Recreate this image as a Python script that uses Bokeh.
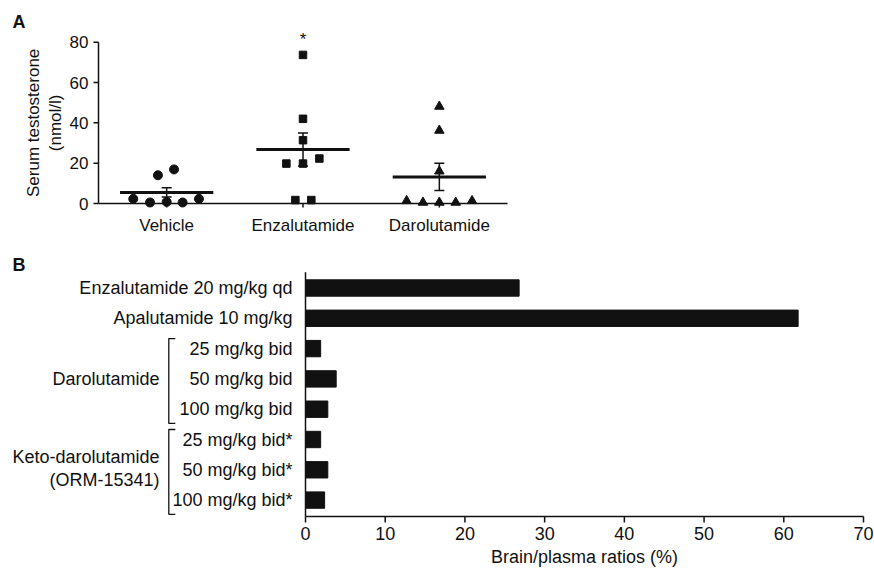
import math
from bokeh.plotting import figure
from bokeh.models import Range1d, Whisker, ColumnDataSource, TeeHead
from bokeh.layouts import column
from bokeh.embed import file_html
from bokeh.resources import INLINE
from bokeh.core.properties import value

# ---------------- data: panel A ----------------
groups_a = ["Vehicle", "Enzalutamide", "Darolutamide"]
vehicle_vals = [2.3, 0.5, 14.0, 0.8, 16.9, 0.5, 2.3]
vehicle_jit = [-0.245, -0.122, -0.064, 0.0, 0.054, 0.117, 0.237]
enza_vals = [19.8, 1.7, 73.7, 42.0, 31.4, 19.8, 1.7, 22.3]
enza_jit = [-0.122, -0.056, 0.0, 0.0, 0.0, 0.0, 0.061, 0.12]
daro_vals = [1.3, 0.5, 48.1, 36.2, 16.0, 0.5, 0.5, 1.3]
daro_jit = [-0.24, -0.12, 0.0, 0.0, 0.0, 0.0, 0.12, 0.24]
means_a = [5.5, 26.8, 13.2]
sems_a = [2.3, 8.2, 6.8]
y_ticks_a = [0, 20, 40, 60, 80]
y_label_a = ["Serum testosterone", "(nmol/l)"]
sig_group = 1

# ---------------- data: panel B ----------------
rows_b = ["Enzalutamide 20 mg/kg qd", "Apalutamide 10 mg/kg",
          "25 mg/kg bid", "50 mg/kg bid", "100 mg/kg bid",
          "25 mg/kg bid*", "50 mg/kg bid*", "100 mg/kg bid*"]
ratios_b = [26.8, 61.8, 1.9, 3.85, 2.8, 1.9, 2.8, 2.4]
bracket_groups = [("Darolutamide", 2, 4), ("Keto-darolutamide\n(ORM-15341)", 5, 7)]
x_ticks_b = [0, 10, 20, 30, 40, 50, 60, 70]
x_label_b = "Brain/plasma ratios (%)"

FONT = "Liberation Sans"
FS_A = "17px"
FS_B = "18px"
INK = "#111111"
W = 874
H = 568

def txt(p, fs, **kw):
    kw.setdefault("text_font", value(FONT))
    kw.setdefault("text_font_size", fs)
    kw.setdefault("text_color", INK)
    kw.setdefault("text_baseline", "middle")
    return p.text(**kw)

# ================= panel A =================
HA = 240
ax_left_px, ax_right_px = 98, 507       # x = -0.5 .. 2.5
y0_px, y80_px = 203, 41.7
xpu = (ax_right_px - ax_left_px) / 3.0
ypu = (y0_px - y80_px) / 80.0
xa0 = -0.5 - ax_left_px / xpu
xa1 = 2.5 + (W - ax_right_px) / xpu

pa = figure(width=W, height=HA, output_backend="svg", toolbar_location=None,
            x_range=Range1d(xa0, xa1),
            y_range=Range1d(-(HA - y0_px) / ypu, y0_px / ypu),
            min_border_left=0, min_border_right=0,
            min_border_top=0, min_border_bottom=0)
pa.outline_line_color = None
pa.grid.visible = False
pa.xaxis.visible = False
pa.yaxis.visible = False

for i, (vals, jit, mk, sz) in enumerate([(vehicle_vals, vehicle_jit, "circle", 9),
                                          (enza_vals, enza_jit, "square", 7.5),
                                          (daro_vals, daro_jit, "triangle", 9.5)]):
    pa.scatter(x=[i + j for j in jit], y=vals, marker=mk, size=sz,
               fill_color=INK, line_color=INK)

pa.segment(x0=[i - 0.342 for i in range(3)], x1=[i + 0.342 for i in range(3)],
           y0=means_a, y1=means_a, line_width=3, line_color=INK)
src = ColumnDataSource(dict(base=list(range(3)),
                            upper=[m + s for m, s in zip(means_a, sems_a)],
                            lower=[m - s for m, s in zip(means_a, sems_a)]))
pa.add_layout(Whisker(source=src, base="base", upper="upper", lower="lower",
                      line_width=1.5, line_color=INK,
                      upper_head=TeeHead(size=10, line_width=1.5, line_color=INK),
                      lower_head=TeeHead(size=10, line_width=1.5, line_color=INK)))
ymax_a = y_ticks_a[-1]
txt(pa, FS_A, x=[sig_group], y=[ymax_a], text=["*"], text_align="center", y_offset=-3)

# y axis
nt = len(y_ticks_a)
pa.segment(x0=[-0.5], x1=[-0.5], y0=[0], y1=[ymax_a], line_width=1.5, line_color=INK)
pa.segment(x0=[-0.5] * nt, x1=[-0.5 - 5 / xpu] * nt, y0=y_ticks_a, y1=y_ticks_a,
           line_width=1.5, line_color=INK)
txt(pa, FS_A, x=[-0.5] * nt, y=y_ticks_a, text=[str(t) for t in y_ticks_a],
    x_offset=-10, text_align="right")
txt(pa, FS_A, x=[-0.5] * 2, y=[ymax_a / 2] * 2, text=y_label_a, x_offset=[-65, -43],
    angle=math.pi / 2, text_align="center")
# x axis
ng = len(groups_a)
pa.segment(x0=[-0.5], x1=[ng - 0.5], y0=[0], y1=[0], line_width=1.5, line_color=INK)
pa.segment(x0=list(range(ng)), x1=list(range(ng)), y0=[0] * ng, y1=[-4 / ypu] * ng,
           line_width=1.5, line_color=INK)
txt(pa, FS_A, x=list(range(ng)), y=[0] * ng, text=groups_a, y_offset=22,
    text_align="center")
# panel letter
txt(pa, FS_A, x=[xa0 + 12 / xpu], y=[(y0_px - 21.5) / ypu], text=["A"],
    text_align="left", text_font_size="18px", text_font_style="bold")

# ================= panel B =================
HB = H - HA
row0_px, row_h = 287.5, 30.3
axis_top_px, axis_bot_px = 271.7, 516
x0_px, x70_px = 305, 863
xmax = x_ticks_b[-1]
xpu_b = (x70_px - x0_px) / xmax
n = len(rows_b)

def row_of(px):
    return (px - row0_px) / row_h

ax_top = row_of(axis_top_px)
ax_bot = row_of(axis_bot_px)
xb0 = -x0_px / xpu_b
xb1 = xmax + (W - x70_px) / xpu_b

pb = figure(width=W, height=HB, output_backend="svg", toolbar_location=None,
            x_range=Range1d(xb0, xb1), y_range=Range1d(row_of(H), row_of(HA)),
            min_border_left=0, min_border_right=0,
            min_border_top=0, min_border_bottom=0)
pb.outline_line_color = None
pb.grid.visible = False
pb.xaxis.visible = False
pb.yaxis.visible = False

pb.hbar(y=list(range(n)), left=0, right=ratios_b, height=0.54,
        fill_color=INK, line_color=INK)

# axes
nb = len(x_ticks_b)
pb.segment(x0=[0, 0], x1=[0, xmax], y0=[ax_top, ax_bot], y1=[ax_bot, ax_bot],
           line_width=1.5, line_color=INK)
pb.segment(x0=x_ticks_b, x1=x_ticks_b, y0=[ax_bot] * nb, y1=[ax_bot + 6 / row_h] * nb,
           line_width=1.5, line_color=INK)
txt(pb, FS_B, x=x_ticks_b, y=[ax_bot] * nb, text=[str(t) for t in x_ticks_b],
    y_offset=17, text_align="center")
txt(pb, FS_B, x=[xmax / 2], y=[ax_bot], text=[x_label_b], y_offset=40,
    text_align="center")

# row labels
txt(pb, FS_B, x=[0] * n, y=list(range(n)), text=rows_b, x_offset=-13,
    text_align="right")

bx = -(x0_px - 168.3) / xpu_b
bt = 6.5 / xpu_b
xs, ys = [], []
for label, s, e in bracket_groups:
    top, bot = s - 0.33, e + 0.47
    xs.append([bx + bt, bx, bx, bx + bt])
    ys.append([top, top, bot, bot])
    lines = label.split("\n")
    mid = (s + e) / 2
    k = len(lines)
    offs = [(-(k - 1) / 2 + j) * 23.3 - (1.6 if k > 1 else 0) for j in range(k)]
    txt(pb, FS_B, x=[0] * k, y=[mid] * k, text=lines, x_offset=-146, y_offset=offs,
        text_align="right")
pb.multi_line(xs=xs, ys=ys, line_color=INK, line_width=1.3)

txt(pb, FS_B, x=[xb0 + 12 / xpu_b], y=[row_of(264.5)], text=["B"],
    text_align="left", text_font_size="18px", text_font_style="bold")

layout = column(pa, pb, spacing=0)
open("out.html", "w").write(file_html(layout, INLINE))
